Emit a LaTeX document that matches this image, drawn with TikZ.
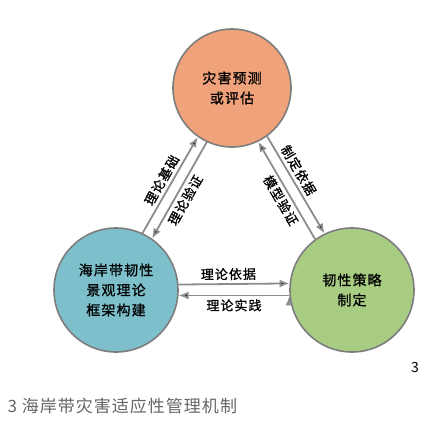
\documentclass[tikz,border=0pt]{standalone}
\usepackage{fontspec}
\setmainfont{Noto Sans CJK SC}
\newfontfamily\cjk[LetterSpace=8, FakeBold=1]{Noto Sans CJK SC}
\newfontfamily\capfont[LetterSpace=6]{Noto Sans CJK SC}
\usetikzlibrary{
  positioning, arrows.meta
}
\definecolor{hazardfill}{RGB}{240,163,122}
\definecolor{theoryfill}{RGB}{125,192,204}
\definecolor{strategyfill}{RGB}{168,204,130}
\definecolor{ringgray}{RGB}{125,125,125}
\definecolor{flowgray}{RGB}{140,140,140}
\tikzset{
  ring/.style={circle, draw=ringgray, line width=1.6pt, inner sep=0pt,
    minimum size=#1, align=center, font=\cjk\fontsize{14}{20}\selectfont},
  flow/.style={draw=flowgray, line width=1.8pt},
  tag/.style={on grid=false, font=\cjk\fontsize{13}{15}\selectfont, inner sep=3pt, sloped}
}

\begin{document}
\begin{tikzpicture}[x=1pt, y=1pt, node distance=120pt, on grid, auto,
    >={Latex[length=10pt,width=8pt]}]
  \useasboundingbox (0,0) rectangle (433,-431);
      \node[ring=118pt, fill=hazardfill] (hazard) at (232,-88) {灾害预测\\或评估};
      \node[ring=124pt, fill=theoryfill] (theory) [below left=202pt and 116pt of hazard] {海岸带韧性\\景观理论\\框架构建};
      \node[ring=124pt, fill=strategyfill] (strategy) [right=236pt of theory] {韧性策略\\制定};
        \path[->, flow]
        (theory.65) edge node[tag, above] {理论基础} (hazard.235)
        (hazard.245) edge node[tag, below, pos=0.55] {理论验证} (theory.55)
        (hazard.-54) edge node[tag, above, pos=0.4] {制定依据} (strategy.116)
        (strategy.126) edge node[tag, below, pos=0.45] {模型验证} (hazard.-64)
        (theory.5.5) edge node[tag, above, pos=0.45] {理论依据} (strategy.174.5)
        (strategy.185.5) edge node[tag, below, pos=0.5] {理论实践} (theory.-5.5);
      \node[font=\fontsize{14}{16}\selectfont] (panel) at (415,-368) {3};
      \node[anchor=west, text=black!60, font=\capfont\fontsize{17}{20}\selectfont] (caption) at (4,-406) {3 海岸带灾害适应性管理机制};
    \end{tikzpicture}
\end{document}
